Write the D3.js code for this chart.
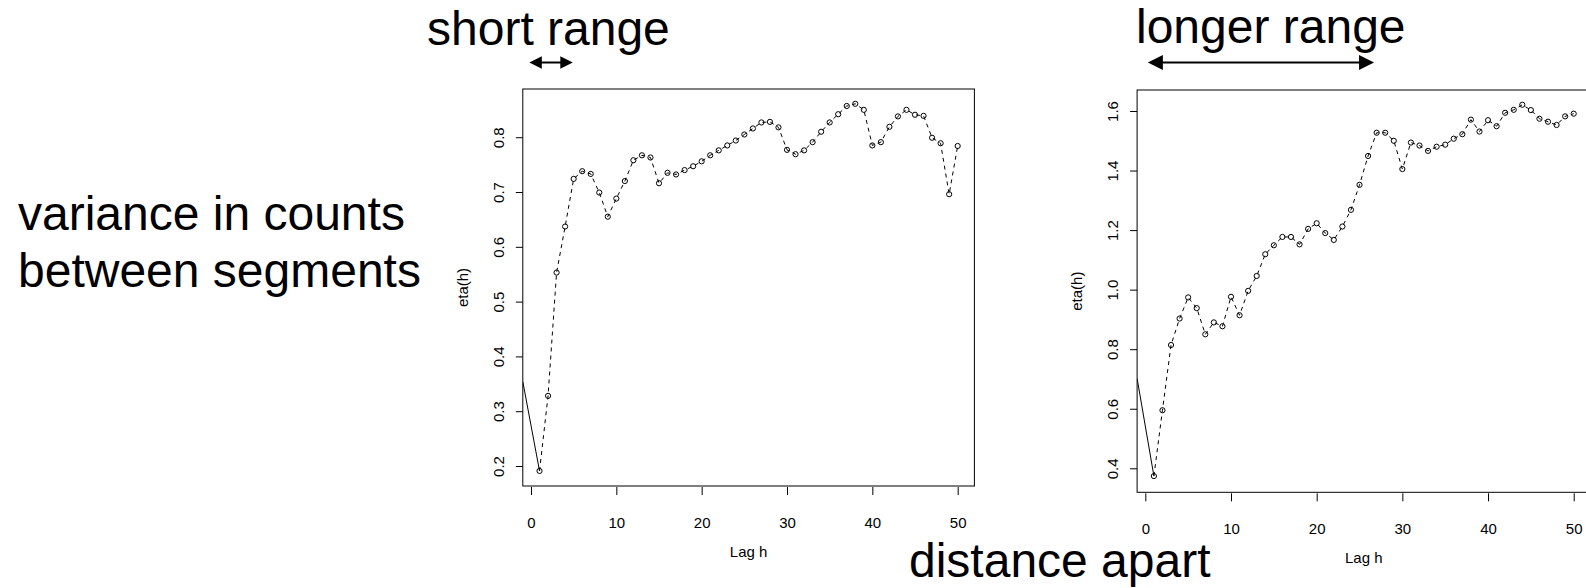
<html>
<head>
<meta charset="utf-8">
<script src="https://cdn.jsdelivr.net/npm/d3@7/dist/d3.min.js"></script>
<style>
  body { margin: 0; background: #fff; }
  text { font-family: "Liberation Sans", Arial, sans-serif; fill: #000; }
</style>
</head>
<body>
<div id="viz"></div>
<script>
// lag values and eta(h)
var lags = [1,2,3,4,5,6,7,8,9,10,11,12,13,14,15,16,17,18,19,20,21,22,23,24,25,
            26,27,28,29,30,31,32,33,34,35,36,37,38,39,40,41,42,43,44,45,46,47,48,49,50];
var shortEta = [0.191,0.328,0.553,0.637,0.724,0.738,0.733,0.699,0.655,0.688,
                0.720,0.758,0.767,0.763,0.716,0.735,0.732,0.740,0.747,0.756,
                0.767,0.776,0.785,0.794,0.805,0.816,0.827,0.828,0.818,0.777,
                0.769,0.776,0.791,0.810,0.827,0.842,0.857,0.861,0.850,0.785,
                0.791,0.819,0.838,0.850,0.841,0.839,0.799,0.789,0.696,0.784];
var longEta = [0.374,0.595,0.814,0.903,0.974,0.938,0.850,0.890,0.877,0.976,
               0.914,0.996,1.046,1.119,1.149,1.177,1.177,1.152,1.204,1.223,
               1.190,1.167,1.212,1.268,1.352,1.449,1.527,1.527,1.500,1.405,
               1.494,1.484,1.466,1.480,1.487,1.507,1.522,1.571,1.531,1.569,
               1.549,1.594,1.604,1.621,1.603,1.574,1.564,1.553,1.582,1.591];
// solid line coming in from outside the left edge
var shortLeadIn = {lag: -0.96, eta: 0.354};
var longLeadIn = {lag: -0.96, eta: 0.702};
var xTicks = [0,10,20,30,40,50];
var shortYTicks = [0.2,0.3,0.4,0.5,0.6,0.7,0.8];
var longYTicks = [0.4,0.6,0.8,1.0,1.2,1.4,1.6];
// annotated ranges (in lags)
var shortSpan = [-0.2, 4.9];
var longSpan = [0.3, 26.7];

var width = 1586, height = 588;
var svg = d3.select("#viz").append("svg")
    .attr("width", width).attr("height", height);
svg.append("rect").attr("width", width).attr("height", height).attr("fill", "#fff");

function panel(id, box, ydom, vals, lead, yticks, fmt) {
  var x = d3.scaleLinear().domain([-0.96, 51.96]).range([box.left, box.right]);
  var y = d3.scaleLinear().domain(ydom).range([box.bottom, box.top]);
  var g = svg.append("g");

  g.append("clipPath").attr("id", id)
    .append("rect").attr("x", box.left).attr("y", box.top)
    .attr("width", box.right - box.left).attr("height", box.bottom - box.top);

  var pts = lags.map(function (l, i) { return {lag: l, eta: vals[i]}; });
  var line = d3.line().x(function (d) { return x(d.lag); }).y(function (d) { return y(d.eta); });

  g.append("path").datum([lead, pts[0]])
    .attr("d", line).attr("fill", "none").attr("stroke", "#000").attr("stroke-width", 1)
    .attr("clip-path", "url(#" + id + ")");
  g.append("path").datum(pts)
    .attr("d", line).attr("fill", "none").attr("stroke", "#000")
    .attr("stroke-width", 1).attr("stroke-dasharray", "4,4");
  g.selectAll("circle").data(pts).enter().append("circle")
    .attr("cx", function (d) { return x(d.lag); })
    .attr("cy", function (d) { return y(d.eta); })
    .attr("r", 2.6).attr("fill", "none").attr("stroke", "#000").attr("stroke-width", 1);

  g.append("rect").attr("x", box.left).attr("y", box.top)
    .attr("width", box.right - box.left).attr("height", box.bottom - box.top)
    .attr("fill", "none").attr("stroke", "#000").attr("stroke-width", 1);

  // x axis
  var xa = g.append("g").attr("transform", "translate(0," + (box.bottom + 1) + ")")
    .call(d3.axisBottom(x).tickValues(xTicks).tickSize(8).tickPadding(22));
  xa.select(".domain").remove();
  xa.selectAll("text").attr("font-size", 15).attr("font-family", "Liberation Sans, Arial, sans-serif");

  // y axis (labels parallel to the axis)
  var ya = g.append("g").attr("transform", "translate(" + box.left + ",0)")
    .call(d3.axisLeft(y).tickValues(yticks).tickFormat(d3.format(fmt)).tickSize(7));
  ya.select(".domain").remove();
  ya.selectAll("text")
    .attr("x", null).attr("dy", null)
    .attr("text-anchor", "middle")
    .attr("font-size", 15).attr("font-family", "Liberation Sans, Arial, sans-serif")
    .attr("transform", "translate(-19,0) rotate(-90)");

  g.append("text").attr("x", (box.left + box.right) / 2).attr("y", box.bottom + 71)
    .attr("text-anchor", "middle").attr("font-size", 15).text("Lag h");
  g.append("text")
    .attr("transform", "translate(" + (box.left - 55) + "," + ((box.top + box.bottom) / 2) + ") rotate(-90)")
    .attr("text-anchor", "middle").attr("font-size", 15).text("eta(h)");
  return x;
}

var xs = panel("clipS", {left: 522.8, right: 974.4, top: 89, bottom: 486},
               [0.1635, 0.888], shortEta, shortLeadIn, shortYTicks, ".1f");
var xl = panel("clipL", {left: 1137.1, right: 1590.5, top: 90, bottom: 492.3},
               [0.3194, 1.6705], longEta, longLeadIn, longYTicks, ".1f");

function arrow(x0, x1, yy, head, half) {
  svg.append("line").attr("x1", x0 + head - 1).attr("x2", x1 - head + 1)
    .attr("y1", yy).attr("y2", yy).attr("stroke", "#000").attr("stroke-width", 2);
  svg.append("path")
    .attr("d", "M" + x0 + "," + yy + "L" + (x0 + head) + "," + (yy - half) + "L" + (x0 + head) + "," + (yy + half) + "Z")
    .attr("fill", "#000");
  svg.append("path")
    .attr("d", "M" + x1 + "," + yy + "L" + (x1 - head) + "," + (yy - half) + "L" + (x1 - head) + "," + (yy + half) + "Z")
    .attr("fill", "#000");
}
arrow(xs(shortSpan[0]), xs(shortSpan[1]), 62.5, 12.5, 6.3);
arrow(xl(longSpan[0]), xl(longSpan[1]), 62.5, 15, 7.5);

function big(txt, x, y) {
  svg.append("text").attr("x", x).attr("y", y).attr("font-size", 48).text(txt);
}
big("short range", 427, 45);
big("longer range", 1136, 43);
big("variance in counts", 18, 230);
big("between segments", 18, 287);
big("distance apart", 909, 577);
</script>
</body>
</html>
